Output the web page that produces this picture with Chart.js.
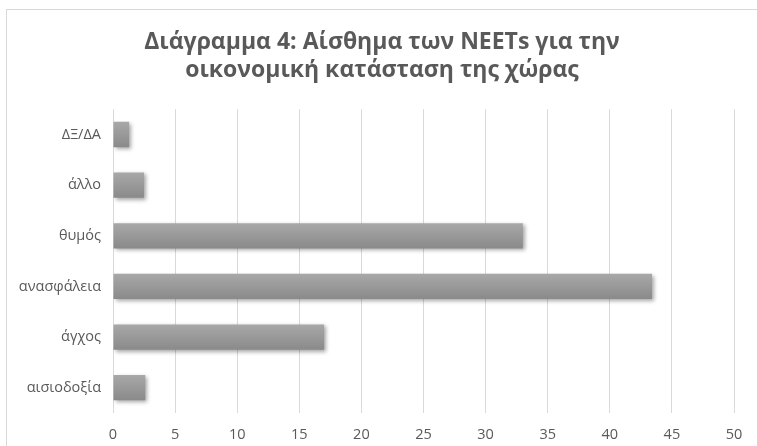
<!DOCTYPE html>
<html>
<head>
<meta charset="utf-8">
<script src="https://cdn.jsdelivr.net/npm/chart.js@4.4.0/dist/chart.umd.min.js"></script>
<style>
  html, body { margin: 0; padding: 0; background: #fff; overflow: hidden; }
  #wrap { position: relative; width: 757px; height: 446px; }
  #plaisio { position: absolute; left: 6px; top: 9px; width: 800px; height: 500px;
             border-left: 1.5px solid #d9d9d9; border-top: 1.5px solid #d9d9d9; }
  canvas { position: absolute; left: 0; top: 0; }
</style>
</head>
<body>
<div id="wrap">
  <div id="plaisio"></div>
  <canvas id="myChart" width="757" height="446"></canvas>
</div>
<script>
// Δεδομένα
var katigories = ['ΔΞ/ΔΑ', 'άλλο', 'θυμός', 'ανασφάλεια', 'άγχος', 'αισιοδοξία'];
var times = [1.3, 2.5, 33, 43.4, 17, 2.6];
var titlos = ['Διάγραμμα 4: Αίσθημα των NEETs για την', 'οικονομική κατάσταση της χώρας'];

// σκιά στις μπάρες
var skia = {
  id: 'skia',
  beforeDatasetsDraw: function (chart) {
    var c = chart.ctx;
    c.save();
    c.shadowColor = 'rgba(0,0,0,0.35)';
    c.shadowBlur = 4;
    c.shadowOffsetX = 2;
    c.shadowOffsetY = 2;
  },
  afterDatasetsDraw: function (chart) {
    chart.ctx.restore();
  }
};

// ο τίτλος λίγο πιο δεξιά, όπως στο excel
var metatopisi = {
  id: 'metatopisi',
  afterLayout: function (chart) {
    if (chart.titleBlock) chart.titleBlock.left = 30;
  }
};

function gradient(context) {
  var chart = context.chart;
  if (!chart.chartArea || !chart.scales.y || context.dataIndex === undefined) return '#999999';
  var y = chart.scales.y.getPixelForValue(context.dataIndex);
  var h = 25;
  if (!isFinite(y)) return '#999999';
  var g = chart.ctx.createLinearGradient(0, y - h / 2, 0, y + h / 2);
  g.addColorStop(0, '#a8a8a8');
  g.addColorStop(1, '#8a8a8a');
  return g;
}

var ctx = document.getElementById('myChart').getContext('2d');
var myChart = new Chart(ctx, {
  type: 'bar',
  data: {
    labels: katigories,
    datasets: [{
      data: times,
      backgroundColor: gradient,
      borderWidth: 0,
      categoryPercentage: 1,
      barPercentage: 0.5
    }]
  },
  plugins: [skia, metatopisi],
  options: {
    indexAxis: 'y',
    responsive: false,
    animation: false,
    layout: { padding: { left: 0, right: 23, top: 0, bottom: 0 } },
    plugins: {
      legend: { display: false },
      tooltip: { enabled: false },
      title: {
        display: true,
        text: titlos,
        color: '#595959',
        font: { family: 'Open Sans', size: 23, weight: 'bold' },
        lineHeight: 1.35,
        padding: { top: 29, bottom: 25 }
      }
    },
    scales: {
      x: {
        min: 0,
        max: 50,
        afterFit: function (scale) { scale.height = 33; },
        ticks: {
          stepSize: 5,
          color: '#595959',
          padding: 13,
          font: { family: 'Open Sans', size: 14.5 }
        },
        grid: { color: '#d9d9d9', drawTicks: false },
        border: { display: false }
      },
      y: {
        afterFit: function (scale) { scale.width = 113; },
        ticks: {
          color: '#595959',
          padding: 12,
          font: { family: 'Open Sans', size: 14.5 }
        },
        grid: { display: false, drawTicks: false },
        border: { display: false }
      }
    }
  }
});
</script>
</body>
</html>
